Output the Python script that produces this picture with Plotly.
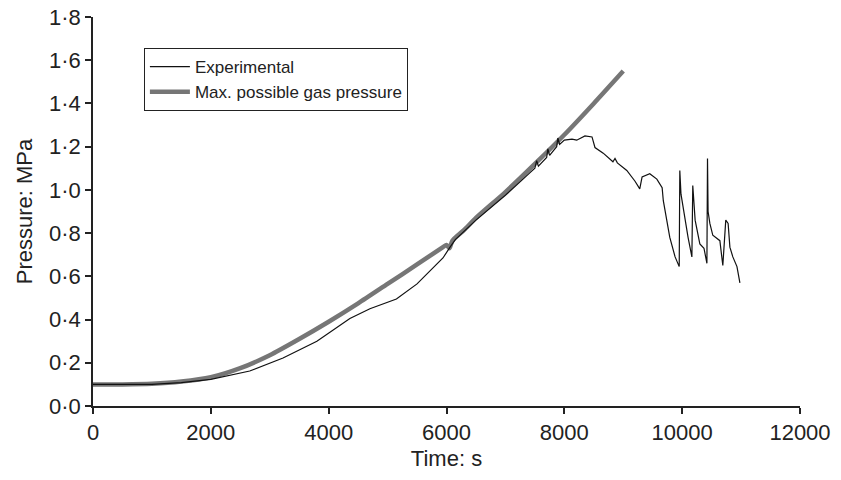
import plotly.graph_objects as go

# ---- data ----
max_time = [0, 500, 1000, 1500, 2000, 2500, 3000, 3500, 4000, 4500, 5000, 5500, 5940, 6000,
            6050, 6100, 6300, 6500, 7000, 7500, 8000, 8500, 9000]
max_pressure = [0.10, 0.10, 0.103, 0.113, 0.133, 0.175, 0.235, 0.31, 0.39, 0.475, 0.565, 0.655, 0.735, 0.745,
                0.73, 0.765, 0.815, 0.87, 0.99, 1.12, 1.255, 1.40, 1.55]

exp_time = [0, 500, 1000, 1500, 2000, 2660, 3225, 3800, 4360, 4700, 5000, 5150, 5500, 5940, 6060,
            6150, 6500, 7000, 7400, 7500, 7530, 7560, 7700, 7720, 7750, 7870, 7890, 7920, 8000,
            8130, 8210, 8350, 8470, 8520, 8660, 8825, 8860, 8900, 9060, 9200, 9280, 9320, 9450,
            9570, 9660, 9680, 9790, 9880, 9950, 9960, 9980, 10050, 10100, 10165, 10180, 10220,
            10300, 10370, 10420, 10430, 10440, 10470, 10520, 10640, 10690, 10740, 10780, 10810,
            10860, 10930, 10980]
exp_pressure = [0.10, 0.10, 0.10, 0.108, 0.123, 0.162, 0.222, 0.30, 0.405, 0.45, 0.478, 0.495, 0.565, 0.685, 0.735,
                0.77, 0.86, 0.975, 1.075, 1.10, 1.135, 1.11, 1.15, 1.19, 1.16, 1.20, 1.24, 1.21, 1.23,
                1.235, 1.23, 1.25, 1.245, 1.196, 1.17, 1.13, 1.145, 1.125, 1.09, 1.04, 1.005, 1.06, 1.075,
                1.05, 1.01, 0.95, 0.78, 0.69, 0.645, 1.09, 0.98, 0.86, 0.78, 0.69, 1.02, 0.86,
                0.75, 0.73, 0.66, 1.145, 0.90, 0.845, 0.79, 0.765, 0.65, 0.86, 0.845, 0.735,
                0.69, 0.645, 0.57]

x_ticks = [0, 2000, 4000, 6000, 8000, 10000, 12000]
y_ticks = [0.0, 0.2, 0.4, 0.6, 0.8, 1.0, 1.2, 1.4, 1.6, 1.8]
y_tick_labels = ["0·0", "0·2", "0·4", "0·6", "0·8", "1·0", "1·2", "1·4", "1·6", "1·8"]

FONT = "Liberation Sans, Arial, sans-serif"
INK = "#222222"

fig = go.Figure()
fig.add_trace(go.Scatter(x=max_time, y=max_pressure, mode="lines", name="Max. possible gas pressure",
                         line=dict(color="#767676", width=4.5, shape="spline", smoothing=0.7)))
fig.add_trace(go.Scatter(x=exp_time, y=exp_pressure, mode="lines", name="Experimental",
                         line=dict(color="#111111", width=1.2)))

fig.update_layout(
    width=841, height=480,
    margin=dict(l=93, r=41, t=17, b=74),
    paper_bgcolor="white", plot_bgcolor="white",
    font=dict(family=FONT, size=22, color=INK),
    showlegend=True,
    legend=dict(x=0.072, y=0.92, xanchor="left", yanchor="top",
                bgcolor="white", bordercolor="#222222", borderwidth=1,
                font=dict(size=17, color=INK), traceorder="reversed",
                itemwidth=40, tracegroupgap=0),
)
fig.update_xaxes(
    range=[0, 12000], tickvals=x_ticks, ticktext=[str(v) for v in x_ticks],
    showline=True, linecolor=INK, linewidth=1.5, showgrid=False, zeroline=False,
    ticks="outside", ticklen=6, tickwidth=1.5, tickcolor=INK,
    title=dict(text="Time: s", standoff=6, font=dict(size=22)),
    automargin=False,
)
fig.update_yaxes(
    range=[0, 1.8], tickvals=y_ticks, ticktext=y_tick_labels,
    showline=True, linecolor=INK, linewidth=1.5, showgrid=False, zeroline=False,
    ticks="outside", ticklen=6, tickwidth=1.5, tickcolor=INK,
    title=dict(text="Pressure: MPa", standoff=10, font=dict(size=22)),
    automargin=False,
)

fig.write_html("out.html")
